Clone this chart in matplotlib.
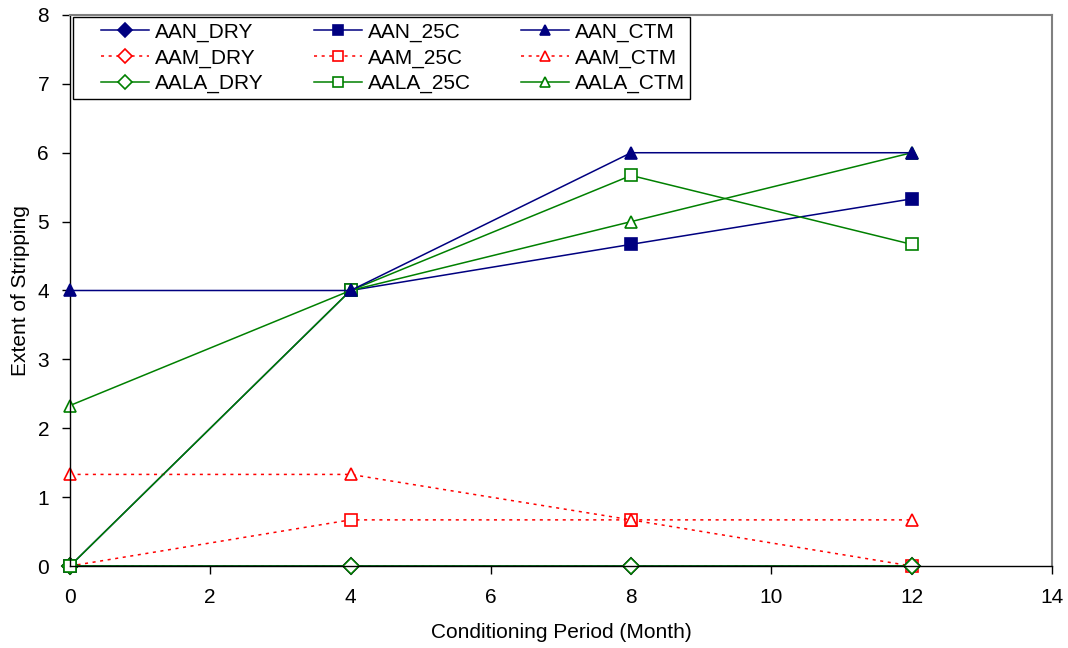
import matplotlib
matplotlib.use("Agg")
import matplotlib.pyplot as plt
from matplotlib.lines import Line2D
from matplotlib.legend_handler import HandlerLine2D

plt.rcParams['font.family'] = ['Liberation Sans', 'DejaVu Sans']

# Conditioning period (months)
months = [0, 4, 8, 12]

aan_dry = [0, 0, 0, 0]
aan_25c = [0, 4, 4.67, 5.33]
aan_ctm = [4, 4, 6, 6]
aam_dry = [0, 0, 0, 0]
aam_25c = [0, 0.67, 0.67, 0]
aam_ctm = [1.33, 1.33, 0.67, 0.67]
aala_dry = [0, 0, 0, 0]
aala_25c = [0, 4, 5.67, 4.67]
aala_ctm = [2.33, 4, 5, 6]

navy = '#000080'
red = '#FF0000'
green = '#008000'

fig = plt.figure(figsize=(10.68, 6.48), dpi=100)
ax = fig.add_axes([0.0655, 0.1265, 0.9195, 0.8504])

ms = 8
lw = 1.1

def draw(y, label, color, marker, filled, ls):
    face = color if filled else 'white'
    line, = ax.plot(months, y, color=color, linestyle=ls, linewidth=lw,
                    marker=marker, markersize=ms, markerfacecolor=face,
                    markeredgecolor=color, markeredgewidth=1.2,
                    label=label, clip_on=False)
    return line

dotted = (0, (2, 3))
h = {}
# red series underneath, navy and green on top like the original
h['AAM_DRY'] = draw(aam_dry, 'AAM_DRY', red, 'D', False, dotted)
h['AAM_25C'] = draw(aam_25c, 'AAM_25C', red, 's', False, dotted)
h['AAM_CTM'] = draw(aam_ctm, 'AAM_CTM', red, '^', False, dotted)
h['AAN_DRY'] = draw(aan_dry, 'AAN_DRY', navy, 'D', True, '-')
h['AAN_25C'] = draw(aan_25c, 'AAN_25C', navy, 's', True, '-')
h['AAN_CTM'] = draw(aan_ctm, 'AAN_CTM', navy, '^', True, '-')
h['AALA_DRY'] = draw(aala_dry, 'AALA_DRY', green, 'D', False, '-')
h['AALA_25C'] = draw(aala_25c, 'AALA_25C', green, 's', False, '-')
h['AALA_CTM'] = draw(aala_ctm, 'AALA_CTM', green, '^', False, '-')
h['AAN_CTM'].set_zorder(3)

ax.set_xlim(0, 14)
ax.set_ylim(0, 8)
ax.set_xticks(range(0, 15, 2))
ax.set_yticks(range(0, 9))
ax.tick_params(direction='out', length=6, width=1, labelsize=15)
ax.tick_params(axis='x', pad=10)
ax.tick_params(axis='y', pad=9)

for side in ('top', 'right'):
    ax.spines[side].set_color('#808080')
    ax.spines[side].set_linewidth(1.5)
for side in ('left', 'bottom'):
    ax.spines[side].set_color('black')
    ax.spines[side].set_linewidth(1)

ax.set_xlabel('Conditioning Period (Month)', fontsize=15, labelpad=11)
ax.set_ylabel('Extent of Stripping', fontsize=15, labelpad=5)

order = ['AAN_DRY', 'AAM_DRY', 'AALA_DRY',
         'AAN_25C', 'AAM_25C', 'AALA_25C',
         'AAN_CTM', 'AAM_CTM', 'AALA_CTM']
# handle line drawn in the right part of a wider handle box (blank margin on the left)
leg = ax.legend([h[k] for k in order], order, ncol=3, loc='upper left',
                bbox_to_anchor=(0.003, 0.996), borderaxespad=0,
                fontsize=15, frameon=True,
                fancybox=False, edgecolor='black', framealpha=1,
                handlelength=3.4, columnspacing=1.3, labelspacing=0.32,
                borderpad=0.25, handletextpad=0.3, markerscale=0.9,
                handler_map={Line2D: HandlerLine2D(xpad=1.1)})
leg.get_frame().set_linewidth(1)

fig.savefig('out.png', dpi=100, facecolor='white')
